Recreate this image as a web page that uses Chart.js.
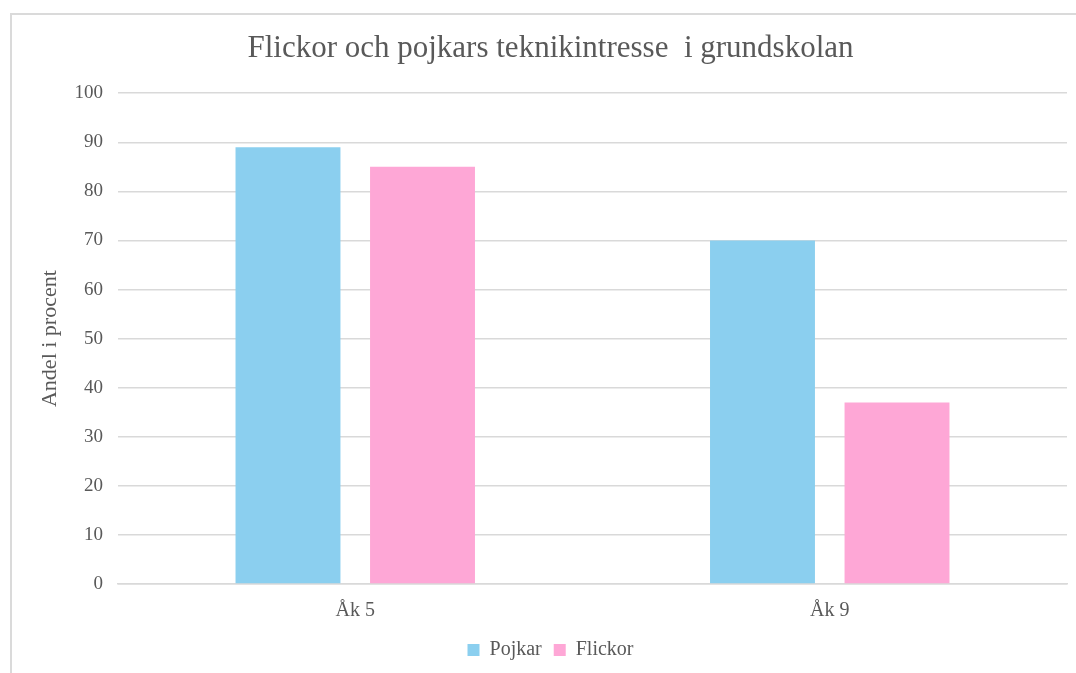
<!DOCTYPE html>
<html>
<head>
<meta charset="utf-8">
<script src="https://cdn.jsdelivr.net/npm/chart.js@4/dist/chart.umd.min.js"></script>
<style>
  html, body { margin: 0; padding: 0; background: #fff; overflow: hidden; }
  #wrap { position: relative; width: 1076px; height: 673px; }
  #frame { position: absolute; left: 10px; top: 13px; width: 1200px; height: 800px;
           border: 2px solid #dadada; box-sizing: border-box; pointer-events: none; }
  canvas { position: absolute; left: 0; top: 0; }
</style>
</head>
<body>
<div id="wrap">
  <canvas id="chart" width="1076" height="673"></canvas>
  <div id="frame"></div>
</div>
<script>
/* Flickor och pojkars teknikintresse – grouped bars */

const CATEGORIES = ['Åk 5', 'Åk 9'];
const POJKAR   = [89, 70];
const FLICKOR  = [85, 37];
const Y_TICKS  = [0, 10, 20, 30, 40, 50, 60, 70, 80, 90, 100];

const TEXT  = '#595959';
const GRID  = '#d9d9d9';
const SERIF = "'Liberation Serif', 'Times New Roman', serif";

new Chart(document.getElementById('chart'), {
  type: 'bar',
  data: {
    labels: CATEGORIES,
    datasets: [
      { label: 'Pojkar',  data: POJKAR,  backgroundColor: '#8bcfef' },
      { label: 'Flickor', data: FLICKOR, backgroundColor: '#fea7d6' },
    ],
  },
  options: {
    responsive: false,
    animation: false,
    categoryPercentage: 0.567,
    barPercentage: 0.78,
    layout: { padding: { left: 34, right: 9, top: 20, bottom: 3 } },
    plugins: {
      title: {
        display: true,
        text: 'Flickor och pojkars teknikintresse  i grundskolan',
        color: TEXT,
        font: { family: SERIF, size: 31, weight: 'normal' },
        padding: { top: 10, bottom: 26 },
      },
      legend: {
        position: 'bottom',
        labels: {
          color: TEXT,
          font: { family: SERIF, size: 20 },
          boxWidth: 12, boxHeight: 12,
          padding: 12,
        },
      },
      tooltip: { enabled: false },
    },
    scales: {
      x: {
        grid: { display: false, drawTicks: false },
        border: { color: GRID, width: 1.5 },
        ticks: { color: TEXT, font: { family: SERIF, size: 20 }, padding: 15 },
        afterFit: s => { s.height = 44; },
      },
      y: {
        min: 0, max: 100,
        afterBuildTicks: s => { s.ticks = Y_TICKS.map(v => ({ value: v })); },
        grid: { color: GRID, lineWidth: 1.5, drawTicks: false },
        border: { display: false },
        ticks: { color: TEXT, font: { family: SERIF, size: 19 }, padding: 15 },
        title: {
          display: true,
          text: 'Andel i procent',
          color: TEXT,
          font: { family: SERIF, size: 22 },
          padding: { top: 3, bottom: 0 },
        },
        afterFit: s => { s.width = 84; },
      },
    },
  },
});
</script>
</body>
</html>
